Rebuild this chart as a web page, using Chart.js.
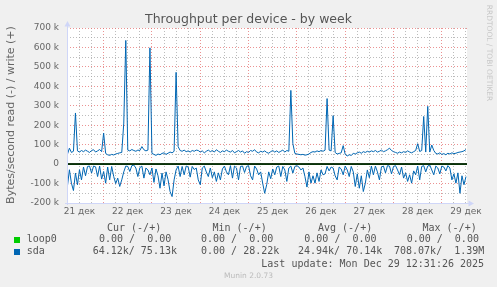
<!DOCTYPE html>
<html>
<head>
<meta charset="utf-8">
<script src="https://cdn.jsdelivr.net/npm/chart.js@4.4.1/dist/chart.umd.min.js"></script>
<style>
    html, body { margin: 0; padding: 0; background: #f0f0f0; }
    #wrap { position: relative; width: 497px; height: 287px; overflow: hidden; font-family: 'DejaVu Sans', sans-serif; color: #666; }
    #chart { position: absolute; left: 0; top: 0; }
    .t { position: absolute; white-space: pre; }
    .mono { font-family: 'DejaVu Sans Mono', monospace; font-size: 10px; line-height: 12px; color: #555; }
    .sq { position: absolute; width: 6px; height: 6px; }
</style>
</head>
<body>
<div id="wrap">
    <canvas id="chart" width="497" height="287"></canvas>
    <div class="t" style="left:0;width:497px;top:11px;text-align:center;font-size:12.5px;line-height:16px;color:#555;">Throughput per device - by week</div>
    <div class="t" style="left:-89.5px;top:109px;width:200px;height:12px;line-height:12px;text-align:center;font-size:11px;transform:rotate(-90deg);">Bytes/second read (-) / write (+)</div>
    <div class="t" style="left:439px;top:48px;width:100px;height:10px;line-height:10px;text-align:center;font-size:7.5px;color:#c8c8c8;transform:rotate(90deg);">RRDTOOL / TOBI OETIKER</div>

    <div class="t mono" style="left:107px;top:221.5px;">Cur (-/+)</div>
    <div class="t mono" style="left:212.5px;top:221.5px;">Min (-/+)</div>
    <div class="t mono" style="left:318px;top:221.5px;">Avg (-/+)</div>
    <div class="t mono" style="left:422.5px;top:221.5px;">Max (-/+)</div>

    <div class="sq" style="left:14px;top:236.5px;background:#00cc00;"></div>
    <div class="t mono" style="left:26.7px;top:233.2px;">loop0</div>
    <div class="t mono" style="left:99px;top:233.2px;">0.00 /  0.00</div>
    <div class="t mono" style="left:201px;top:233.2px;">0.00 /  0.00</div>
    <div class="t mono" style="left:304.3px;top:233.2px;">0.00 /  0.00</div>
    <div class="t mono" style="left:406.7px;top:233.2px;">0.00 /  0.00</div>

    <div class="sq" style="left:14px;top:248.5px;background:#0066b3;"></div>
    <div class="t mono" style="left:26.7px;top:244.8px;">sda</div>
    <div class="t mono" style="left:92.7px;top:244.8px;">64.12k/ 75.13k</div>
    <div class="t mono" style="left:201px;top:244.8px;">0.00 / 28.22k</div>
    <div class="t mono" style="left:298px;top:244.8px;">24.94k/ 70.14k</div>
    <div class="t mono" style="left:394px;top:244.8px;">708.07k/  1.39M</div>

    <div class="t mono" style="left:261.3px;top:258.2px;">Last update: Mon Dec 29 12:31:26 2025</div>
    <div class="t" style="left:0;width:497px;top:271px;text-align:center;font-size:7.5px;line-height:10px;color:#bbb;">Munin 2.0.73</div>
</div>
<script>
// Time axis: hours since 21 Dec 00:00, one sample per hour
const startHour = 6;
const viewStart = 5.8;
const viewEnd = 204.5;
const dayLabels = ['21 дек', '22 дек', '23 дек', '24 дек', '25 дек', '26 дек', '27 дек', '28 дек', '29 дек'];

// sda write (+), kB/s
const sdaWrite = [
    50, 82, 60, 66, 263, 68, 62, 70, 64, 72, 66, 60, 70, 74, 62, 68, 75, 64,
    160, 55, 48, 45, 50, 47, 52, 55, 58, 60, 211, 636, 72, 68, 75, 70, 66, 72, 70, 90, 74, 68, 72, 598,
    55, 50, 45, 52, 48, 55, 58, 50, 56, 62, 58, 66, 472, 90, 70, 66, 72, 64, 68, 62, 70, 66, 72, 70,
    62, 68, 58, 66, 72, 64, 70, 62, 74, 66, 60, 68, 64, 72, 66, 62, 70, 58, 64, 70, 62, 68, 56, 64,
    60, 70, 66, 74, 62, 58, 66, 62, 68, 60, 56, 64, 70, 62, 68, 60, 66, 72, 62, 70, 66, 379, 105, 55,
    52, 50, 48, 50, 46, 48, 52, 60, 64, 62, 68, 64, 70, 66, 72, 337, 72, 68, 249, 60, 52, 55, 58, 95,
    50, 42, 48, 45, 55, 52, 58, 62, 56, 64, 60, 66, 62, 68, 64, 70, 62, 66, 72, 64, 68, 74, 82, 70,
    64, 60, 56, 62, 58, 64, 60, 68, 62, 58, 64, 70, 105, 65, 70, 245, 62, 297, 62, 98, 70, 55, 52, 58,
    50, 54, 48, 56, 52, 58, 54, 56, 60, 62, 64, 68, 75
];

// sda read (-), kB/s
const sdaRead = [
    -115, -29, -98, -136, -46, -106, -29, -81, -15, -60, -12, -10, -46, -10, -14, -64, -10, -77,
    -38, -98, -15, -81, -12, -64, -100, -72, -115, -81, -40, -10, -12, -38, -8, -5, -20, -64, -18, -10, -72, -20, -30, -55,
    -20, -94, -25, -60, -124, -46, -112, -40, -80, -141, -167, -81, -30, -10, -64, -12, -55, -10, -15, -67, -12, -28, -20, -81,
    -106, -20, -10, -40, -64, -20, -70, -40, -89, -45, -81, -25, -10, -40, -55, -8, -72, -10, -20, -81, -12, -10, -43, -12,
    -8, -60, -81, -10, -25, -55, -40, -98, -150, -106, -40, -75, -25, -55, -15, -10, -64, -12, -30, -89, -20, -10, -46, -12,
    -8, -15, -30, -20, -64, -118, -40, -98, -60, -98, -45, -89, -30, -55, -50, -12, -35, -15, -20, -60, -81, -15, -25, -55,
    -10, -30, -64, -12, -40, -115, -50, -124, -60, -141, -98, -30, -70, -10, -55, -10, -40, -81, -15, -10, -45, -8, -10, -50,
    -12, -8, -30, -55, -15, -72, -45, -89, -55, -98, -35, -55, -10, -81, -12, -8, -40, -10, -5, -30, -55, -10, -20, -50,
    -10, -15, -35, -8, -20, -81, -50, -98, -45, -150, -60, -106, -64
];

// loop0 stays at zero for the whole week
const loop0Hours = [viewStart, viewEnd];
const loop0Read = [0, 0];
const loop0Write = [0, 0];

const hours = sdaWrite.map((_, i) => startHour + i);
const tickHours = [];
for (let h = 6; h <= 204; h += 6) tickHours.push(h);

const majorGrid = 'rgba(228, 110, 110, 0.75)';
const minorGrid = 'rgba(165, 165, 165, 0.75)';
const tickFont = { family: 'DejaVu Sans', size: 9 };

function points(xs, ys) {
    return xs.map((x, i) => ({ x: x, y: ys[i] }));
}

const muninFrame = {
    id: 'muninFrame',
    beforeDraw(chart) {
        const a = chart.chartArea;
        const ctx = chart.ctx;
        ctx.save();
        ctx.fillStyle = '#ffffff';
        ctx.fillRect(a.left, a.top, a.right - a.left, a.bottom - a.top);
        ctx.restore();
    },
    afterDatasetsDraw(chart) {
        const ctx = chart.ctx;
        const a = chart.chartArea;
        const y0 = Math.round(chart.scales.y.getPixelForValue(0));
        ctx.save();
        ctx.strokeStyle = '#000000';
        ctx.lineWidth = 1.5;
        ctx.beginPath();
        ctx.moveTo(a.left, y0);
        ctx.lineTo(a.right, y0);
        ctx.stroke();

        // axes with arrows
        const xl = Math.round(a.left) + 0.5;
        const yb = Math.round(a.bottom) + 0.5;
        ctx.lineWidth = 1;
        ctx.strokeStyle = '#cfd6f8';
        ctx.fillStyle = '#cfd6f8';
        ctx.beginPath();
        ctx.moveTo(xl, a.bottom + 2);
        ctx.lineTo(xl, a.top - 3);
        ctx.moveTo(a.left - 2, yb);
        ctx.lineTo(a.right + 3, yb);
        ctx.stroke();
        ctx.beginPath();
        ctx.moveTo(xl - 3, a.top - 1.5);
        ctx.lineTo(xl + 3, a.top - 1.5);
        ctx.lineTo(xl, a.top - 7);
        ctx.fill();
        ctx.beginPath();
        ctx.moveTo(a.right + 1.5, yb - 3);
        ctx.lineTo(a.right + 1.5, yb + 3);
        ctx.lineTo(a.right + 7, yb);
        ctx.fill();
        ctx.restore();
    }
};

new Chart(document.getElementById('chart'), {
    type: 'line',
    data: {
        datasets: [
            { label: 'sda write', data: points(hours, sdaWrite), borderColor: '#0066b3', borderWidth: 1, pointRadius: 0, tension: 0, fill: false },
            { label: 'sda read', data: points(hours, sdaRead), borderColor: '#0066b3', borderWidth: 1, pointRadius: 0, tension: 0, fill: false },
            { label: 'loop0 write', data: points(loop0Hours, loop0Write), borderColor: '#00cc00', borderWidth: 1, pointRadius: 0, fill: false },
            { label: 'loop0 read', data: points(loop0Hours, loop0Read), borderColor: '#00cc00', borderWidth: 1, pointRadius: 0, fill: false }
        ]
    },
    options: {
        responsive: false,
        animation: false,
        events: [],
        layout: { padding: { left: 7, right: 30, top: 28, bottom: 64 } },
        plugins: {
            legend: { display: false },
            tooltip: { enabled: false },
            title: { display: false }
        },
        scales: {
            x: {
                type: 'linear',
                min: viewStart,
                max: viewEnd,
                afterBuildTicks: scale => { scale.ticks = tickHours.map(v => ({ value: v })); },
                afterFit: scale => { scale.height = 20; },
                grid: {
                    drawTicks: false,
                    color: ctx => (ctx.tick && ctx.tick.value % 24 === 0) ? majorGrid : minorGrid
                },
                border: { display: false, dash: [1, 2] },
                ticks: {
                    autoSkip: false,
                    maxRotation: 0,
                    padding: 3,
                    color: '#666',
                    font: tickFont,
                    callback: v => (v % 24 === 12) ? dayLabels[(v - 12) / 24] : ''
                }
            },
            y: {
                min: -200,
                max: 700,
                afterFit: scale => { scale.width = 60; },
                grid: {
                    drawTicks: false,
                    color: ctx => (ctx.tick && ctx.tick.value % 100 === 0) ? majorGrid : minorGrid
                },
                border: { display: false, dash: [1, 2] },
                ticks: {
                    stepSize: 50,
                    autoSkip: false,
                    padding: 8,
                    color: '#666',
                    font: tickFont,
                    callback: v => (v % 100 === 0) ? (v === 0 ? '0' : v + ' k') : ''
                }
            }
        }
    },
    plugins: [muninFrame]
});
</script>
</body>
</html>
